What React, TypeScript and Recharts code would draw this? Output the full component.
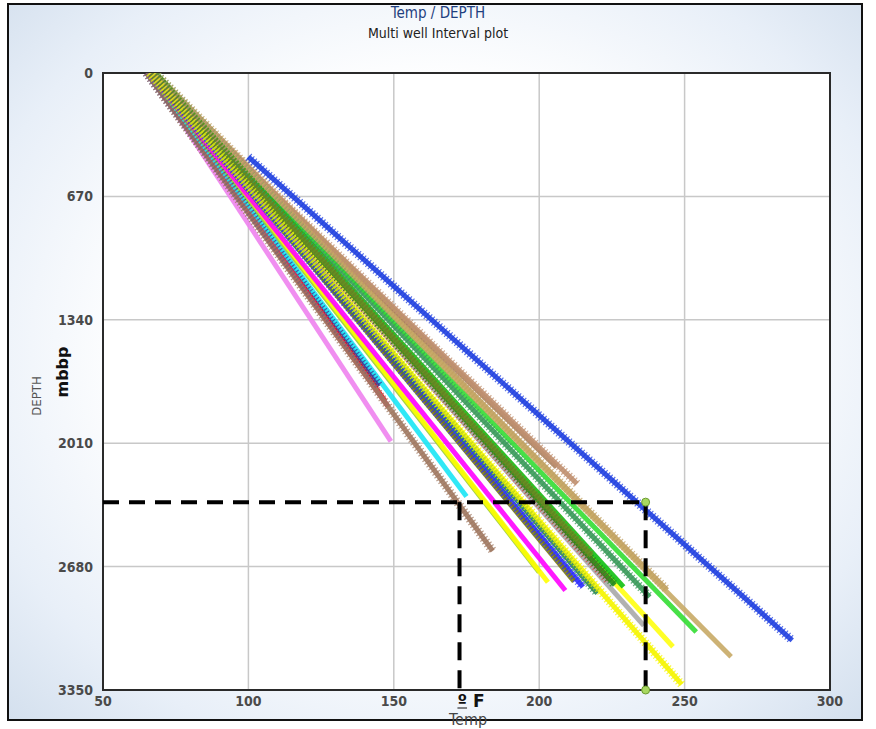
import React from 'react';
import {
  LineChart,
  Line,
  XAxis,
  YAxis,
  CartesianGrid,
  ReferenceLine,
  ReferenceDot,
  ReferenceArea,
} from 'recharts';

// well intervals: top and base reading (temp degF, depth mbbp)
const wellIds = [
  'W01', 'W02', 'W03', 'W04', 'W05', 'W06', 'W07', 'W08', 'W09', 'W10',
  'W11', 'W12', 'W13', 'W14', 'W15', 'W16', 'W17', 'W18', 'W19', 'W20',
  'W21', 'W22', 'W23', 'W24', 'W25', 'W26', 'W27',
];
const topTemp = [
  66, 65, 66, 66, 65, 66, 66, 67, 66, 67,
  67, 66, 67, 67, 67, 66, 68, 67, 68, 67,
  66, 66, 67, 68, 67, 66, 100,
];
const topDepth = [
  0, 0, 0, 0, 0, 0, 0, 0, 0, 0,
  0, 0, 0, 0, 0, 0, 0, 0, 0, 0,
  0, 0, 0, 0, 0, 0, 456,
];
const baseTemp = [
  149, 145, 147, 148, 184, 175, 200, 203, 209, 215,
  212, 220, 222, 224, 236, 246, 238, 226, 244, 254,
  206, 213, 266, 229, 218, 249, 287,
];
const baseDepth = [
  2000, 1700, 1780, 1810, 2595, 2300, 2710, 2765, 2810, 2790,
  2760, 2825, 2715, 2760, 3000, 3115, 2845, 2780, 2807, 3035,
  2140, 2230, 3170, 2790, 2620, 3320, 3080,
];

const xTicks = [50, 100, 150, 200, 250, 300];
const yTicks = [0, 670, 1340, 2010, 2680, 3350];

// cut-off picked on the plot
const cutDepth = 2330;
const cutTemps = [172.6, 236.6];

const colors = [
  '#ee82ee', '#3b2f8f', '#ff0000', '#ff1a66', '#a07860', '#19e6f5', '#9acd32', '#ffff00', '#ff00ff', '#2b2bff',
  '#7a7a10', '#2e8b57', '#8b2a12', '#d84040', '#a8a8a8', '#ffff10', '#3a9a5a', '#1e8a1e', '#c0a060', '#33dd33',
  '#a8805e', '#c09070', '#c8aa66', '#11c011', '#6b8e23', '#f5f500', '#2040e0',
];
const marked = [
  false, true, false, false, true, false, false, false, false, true,
  false, true, false, true, false, false, true, true, true, false,
  false, true, false, false, true, true, true,
];

const wells = wellIds.map((id, i) => ({
  id,
  data: [
    { temp: topTemp[i], depth: topDepth[i] },
    { temp: baseTemp[i], depth: baseDepth[i] },
  ],
}));

const font = '"DejaVu Sans Condensed", "DejaVu Sans", sans-serif';

export default function App() {
  return (
    <div style={{ position: 'absolute', left: 0, top: 0, width: 876, height: 729, background: '#fff', fontFamily: font }}>
      <div
        style={{
          position: 'absolute', left: 7, top: 3, width: 856, height: 718, boxSizing: 'border-box',
          border: '2px solid #111',
          background: 'radial-gradient(ellipse at 50% 48%, #ffffff 50%, #e8eff8 80%, #d4e0ee 100%)',
        }}
      />
      <div style={{ position: 'absolute', left: 0, width: 876, top: 5, textAlign: 'center', fontSize: 15, lineHeight: '17px', color: '#1f3f7f' }}>
        Temp / DEPTH
      </div>
      <div style={{ position: 'absolute', left: 0, width: 876, top: 25, textAlign: 'center', fontSize: 14, lineHeight: '16px', color: '#222' }}>
        Multi well Interval plot
      </div>
      <div style={{ position: 'absolute', left: 0, top: 0 }}>
        <LineChart width={876} height={729} margin={{ top: 73, right: 46, bottom: 9, left: 43 }}>
          <CartesianGrid stroke="#c8c8c8" strokeWidth={1.5} fill="#fff" />
          <XAxis
            type="number"
            dataKey="temp"
            domain={[50, 300]}
            ticks={xTicks}
            interval={0}
            height={30}
            axisLine={false}
            tickLine={false}
            tickSize={4}
            tickMargin={2}
            tick={{ fontSize: 14, fontWeight: 700, fill: '#4a4a4a', fontFamily: font }}
            allowDataOverflow
          />
          <YAxis
            type="number"
            dataKey="depth"
            reversed
            domain={[0, 3350]}
            ticks={yTicks}
            interval={0}
            width={60}
            axisLine={false}
            tickLine={false}
            tickSize={6}
            tickMargin={4}
            tick={{ fontSize: 14, fontWeight: 700, fill: '#4a4a4a', fontFamily: font }}
            allowDataOverflow
          />
          {wells.map((w, i) => (
            <Line
              key={w.id}
              data={w.data}
              dataKey="depth"
              type="linear"
              stroke={colors[i]}
              strokeWidth={5}
              strokeOpacity={0.9}
              dot={false}
              activeDot={false}
              isAnimationActive={false}
            />
          ))}
          {wells.map((w, i) =>
            marked[i] ? (
              <Line
                key={w.id + '-x'}
                data={w.data}
                dataKey="depth"
                type="linear"
                stroke={colors[i]}
                strokeWidth={9}
                strokeDasharray="1.2 2.2"
                strokeOpacity={0.75}
                dot={false}
                activeDot={false}
                isAnimationActive={false}
              />
            ) : null
          )}
          <ReferenceArea x1={50} x2={300} y1={0} y2={3350} fill="none" stroke="#2a2a2a" strokeWidth={2} />
          <ReferenceLine
            segment={[{ x: 50, y: cutDepth }, { x: cutTemps[1], y: cutDepth }]}
            stroke="#000"
            strokeWidth={4}
            strokeDasharray="16 10"
          />
          {cutTemps.map((t) => (
            <ReferenceLine
              key={t}
              segment={[{ x: t, y: cutDepth }, { x: t, y: 3350 }]}
              stroke="#000"
              strokeWidth={4}
              strokeDasharray="18 10"
            />
          ))}
          <ReferenceDot x={cutTemps[1]} y={cutDepth} r={4} fill="#a8d860" stroke="#6b9a30" />
          <ReferenceDot x={cutTemps[1]} y={3350} r={4} fill="#a8d860" stroke="#6b9a30" />
        </LineChart>
      </div>
      <div
        style={{
          position: 'absolute', left: 36, top: 396, transform: 'translate(-50%, -50%) rotate(-90deg)',
          fontSize: 13, color: '#555', whiteSpace: 'nowrap',
        }}
      >
        DEPTH
      </div>
      <div
        style={{
          position: 'absolute', left: 62, top: 372, transform: 'translate(-50%, -50%) rotate(-90deg)',
          fontSize: 16, fontWeight: 700, color: '#111', whiteSpace: 'nowrap', fontFamily: '"DejaVu Sans", sans-serif',
        }}
      >
        mbbp
      </div>
      <div
        style={{
          position: 'absolute', left: 471, top: 701, transform: 'translate(-50%, -50%)',
          fontSize: 17, lineHeight: '17px', fontWeight: 700, color: '#111', whiteSpace: 'nowrap', fontFamily: '"DejaVu Sans", sans-serif',
        }}
      >
        <span style={{ textDecoration: 'underline' }}>º</span> F
      </div>
      <div
        style={{
          position: 'absolute', left: 468, top: 719, transform: 'translate(-50%, -50%)',
          fontSize: 16, lineHeight: '15px', color: '#444', whiteSpace: 'nowrap',
        }}
      >
        Temp
      </div>
    </div>
  );
}
